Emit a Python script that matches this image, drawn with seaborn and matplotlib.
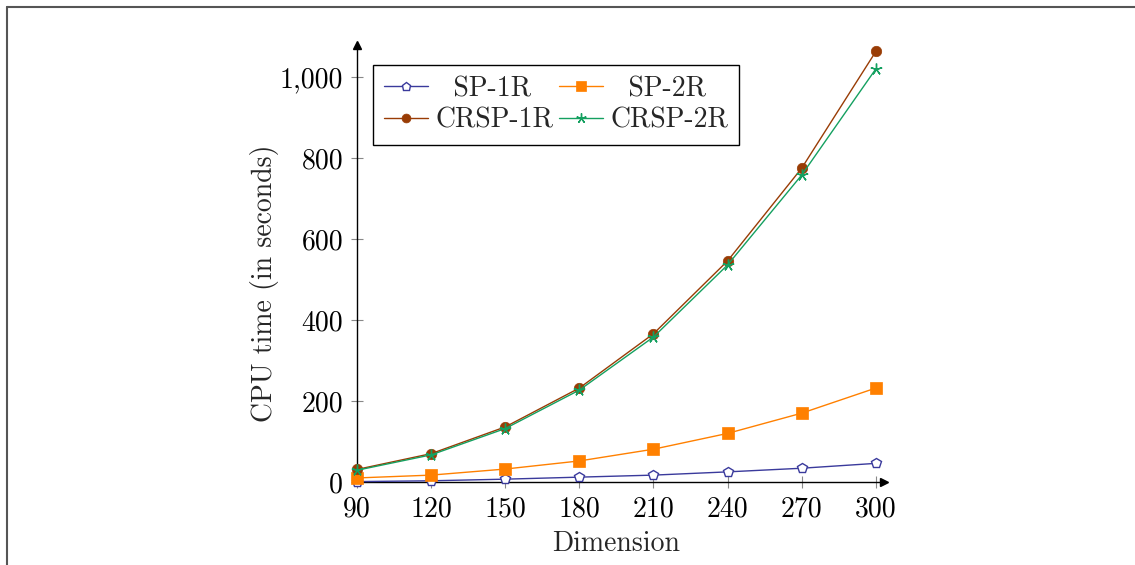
import numpy as np
import pandas as pd
import matplotlib
matplotlib.use("Agg")
import matplotlib.pyplot as plt
import seaborn as sns
from matplotlib.ticker import FuncFormatter
from matplotlib.lines import Line2D

# ---- data ----
dimension = [90, 120, 150, 180, 210, 240, 270, 300]
sp_1r = [1, 3, 7, 12, 17, 25, 34, 46]
sp_2r = [10, 17, 32, 52, 81, 120, 170, 232]
crsp_1r = [31, 70, 136, 232, 366, 546, 775, 1063]
crsp_2r = [29, 67, 132, 227, 358, 536, 758, 1020]
series_names = ["SP-1R", "SP-2R", "CRSP-1R", "CRSP-2R"]
x_ticks = [90, 120, 150, 180, 210, 240, 270, 300]
y_ticks = [0, 200, 400, 600, 800, 1000]

sns.set_theme(style="white")
plt.rcParams["font.family"] = ["cmr10", "DejaVu Serif"]
plt.rcParams["axes.unicode_minus"] = False
plt.rcParams["mathtext.fontset"] = "cm"

fig = plt.figure(figsize=(11.35, 5.65), dpi=100)
ax = fig.add_axes([357 / 1135, 1 - 482 / 565, (884 - 357) / 1135, (482 - 45) / 565])

styles = {
    "SP-1R": dict(color="#3a3a9c", marker="p", markerfacecolor="white",
                  markeredgecolor="#3a3a9c", markersize=7.5, markeredgewidth=1.0),
    "SP-2R": dict(color="#ff8000", marker="s", markerfacecolor="#ff8000",
                  markeredgecolor="#ff8000", markersize=8, markeredgewidth=0.5),
    "CRSP-1R": dict(color="#993c05", marker="o", markerfacecolor="#993c05",
                    markeredgecolor="#993c05", markersize=7.5, markeredgewidth=0.5),
    "CRSP-2R": dict(color="#14a060", marker=(5, 2, 0), markerfacecolor="#14a060",
                    markeredgecolor="#14a060", markersize=8.5, markeredgewidth=1.0),
}
values = {"SP-1R": sp_1r, "SP-2R": sp_2r, "CRSP-1R": crsp_1r, "CRSP-2R": crsp_2r}

for name in series_names:
    df = pd.DataFrame({"Dimension": dimension, "time": values[name]})
    sns.lineplot(data=df, x="Dimension", y="time", ax=ax, linewidth=1.0,
                 label=name, clip_on=False, zorder=3, legend=False, **styles[name])

ax.set_xlim(90, 303.3)
ax.set_ylim(0, 1079)
ax.set_xticks(x_ticks)
ax.set_yticks(y_ticks)
ax.yaxis.set_major_formatter(FuncFormatter(lambda v, p: f"{int(v):,}"))

for s in ["top", "right"]:
    ax.spines[s].set_visible(False)
for s in ["left", "bottom"]:
    ax.spines[s].set_color("black")
    ax.spines[s].set_linewidth(1.0)
    ax.spines[s].set_zorder(2)

ax.tick_params(axis="both", which="major", direction="inout", length=8, width=0.8,
               color="#888888", labelsize=20, labelcolor="black", pad=6,
               bottom=True, left=True)

# arrow heads
ax.plot(1, 0, marker=">", color="black", markersize=6, transform=ax.transAxes, clip_on=False, zorder=5)
ax.plot(0, 1, marker="^", color="black", markersize=6, transform=ax.transAxes, clip_on=False, zorder=5)

ax.set_xlabel("Dimension", fontsize=20)
ax.set_ylabel("CPU time (in seconds)", fontsize=20)
ax.xaxis.set_label_coords(0.491, -0.112)
ax.yaxis.set_label_coords(-0.148, 0.455)

# legend filled row-wise (matplotlib fills column-wise, so reorder)
order = ["SP-1R", "CRSP-1R", "SP-2R", "CRSP-2R"]
labels = {"SP-1R": "  SP-1R", "SP-2R": "  SP-2R", "CRSP-1R": "CRSP-1R", "CRSP-2R": "CRSP-2R"}
leg_handles = []
for n in order:
    st = dict(styles[n])
    st["markersize"] = st["markersize"] * 0.85
    leg_handles.append(Line2D([], [], linewidth=1.0, **st))
leg = ax.legend(leg_handles, [labels[n] for n in order],
                loc="upper left", bbox_to_anchor=(0.03, 0.955), ncol=2, fontsize=20,
                frameon=True, fancybox=False, edgecolor="black", framealpha=1,
                handlelength=1.6, handletextpad=0.25, columnspacing=0.2,
                borderpad=0.4, labelspacing=0.2, borderaxespad=0)
leg.get_frame().set_linewidth(1.0)

# figure border (top and left)
fig.add_artist(Line2D([6.5 / 1135, 1], [1 - 6.5 / 565, 1 - 6.5 / 565], color="#555555", lw=1.5,
                      transform=fig.transFigure))
fig.add_artist(Line2D([6.5 / 1135, 6.5 / 1135], [0, 1 - 6.5 / 565], color="#555555", lw=1.5,
                      transform=fig.transFigure))

fig.savefig("out.png", dpi=100, facecolor="white")
